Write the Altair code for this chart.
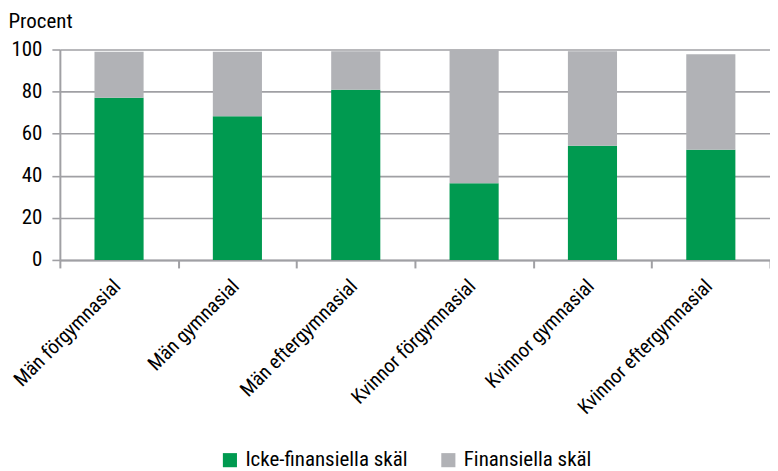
import altair as alt
import pandas as pd

categories = ["Män förgymnasial", "Män gymnasial", "Män eftergymnasial",
              "Kvinnor förgymnasial", "Kvinnor gymnasial", "Kvinnor eftergymnasial"]
icke_fin = [77.1, 68.3, 80.9, 36.5, 54.3, 52.4]
fin = [21.8, 30.6, 18.3, 63.5, 44.9, 45.4]
series = ["Icke-finansiella skäl", "Finansiella skäl"]
colors = ["#009a50", "#b1b2b6"]

rows = []
for c, a, b in zip(categories, icke_fin, fin):
    rows.append({"kat": c, "serie": series[0], "v": a, "o": 0})
    rows.append({"kat": c, "serie": series[1], "v": b, "o": 1})
df = pd.DataFrame(rows)

FONT = "Roboto Condensed, Roboto, sans-serif"
GRAY = "#a0a0a4"

chart = alt.Chart(df).mark_bar(width=alt.RelativeBandSize(0.415)).encode(
    x=alt.X("kat:N", sort=categories, title=None,
            scale=alt.Scale(paddingInner=0, paddingOuter=0),
            axis=alt.Axis(labelAngle=-45, labelAlign="right", labelBaseline="middle",
                          tickBand="extent", grid=False,
                          domainColor=GRAY, domainWidth=2, tickColor=GRAY,
                          tickWidth=2, tickSize=8, labelFontSize=20,
                          labelFont=FONT, labelColor="#000", labelPadding=15,
                          labelOffset=-2, labelLimit=300)),
    y=alt.Y("v:Q", stack="zero", title="Procent",
            scale=alt.Scale(domain=[0, 100], nice=False),
            axis=alt.Axis(values=[0, 20, 40, 60, 80, 100], grid=True,
                          gridColor=GRAY, gridWidth=1.6, domainColor=GRAY,
                          domainWidth=2, tickColor=GRAY, tickWidth=1.6, tickSize=8,
                          labelFontSize=21, labelFont=FONT, labelColor="#000",
                          labelPadding=10, titleAngle=0, titleAlign="left",
                          titleBaseline="alphabetic", titleX=-52, titleY=-22,
                          titleFont=FONT, titleFontSize=21, titleFontWeight="normal",
                          titleColor="#000")),
    color=alt.Color("serie:N", scale=alt.Scale(domain=series, range=colors),
                    legend=alt.Legend(title=None, orient="none", direction="horizontal",
                                      legendX=160, legendY=401, symbolType="square",
                                      symbolSize=200, symbolStrokeWidth=0,
                                      labelFontSize=21, labelFont=FONT,
                                      labelColor="#000", columnPadding=30,
                                      labelOffset=5, labelLimit=300,
                                      symbolOpacity=1)),
    order=alt.Order("o:Q", sort="ascending"),
).properties(
    width=712, height=211,
    autosize=alt.AutoSizeParams(type="none"),
    padding={"left": 52, "top": 41, "right": 0, "bottom": 210},
).configure_view(stroke=None)

chart.save("out.html", embed_options={"renderer": "svg", "actions": False})
